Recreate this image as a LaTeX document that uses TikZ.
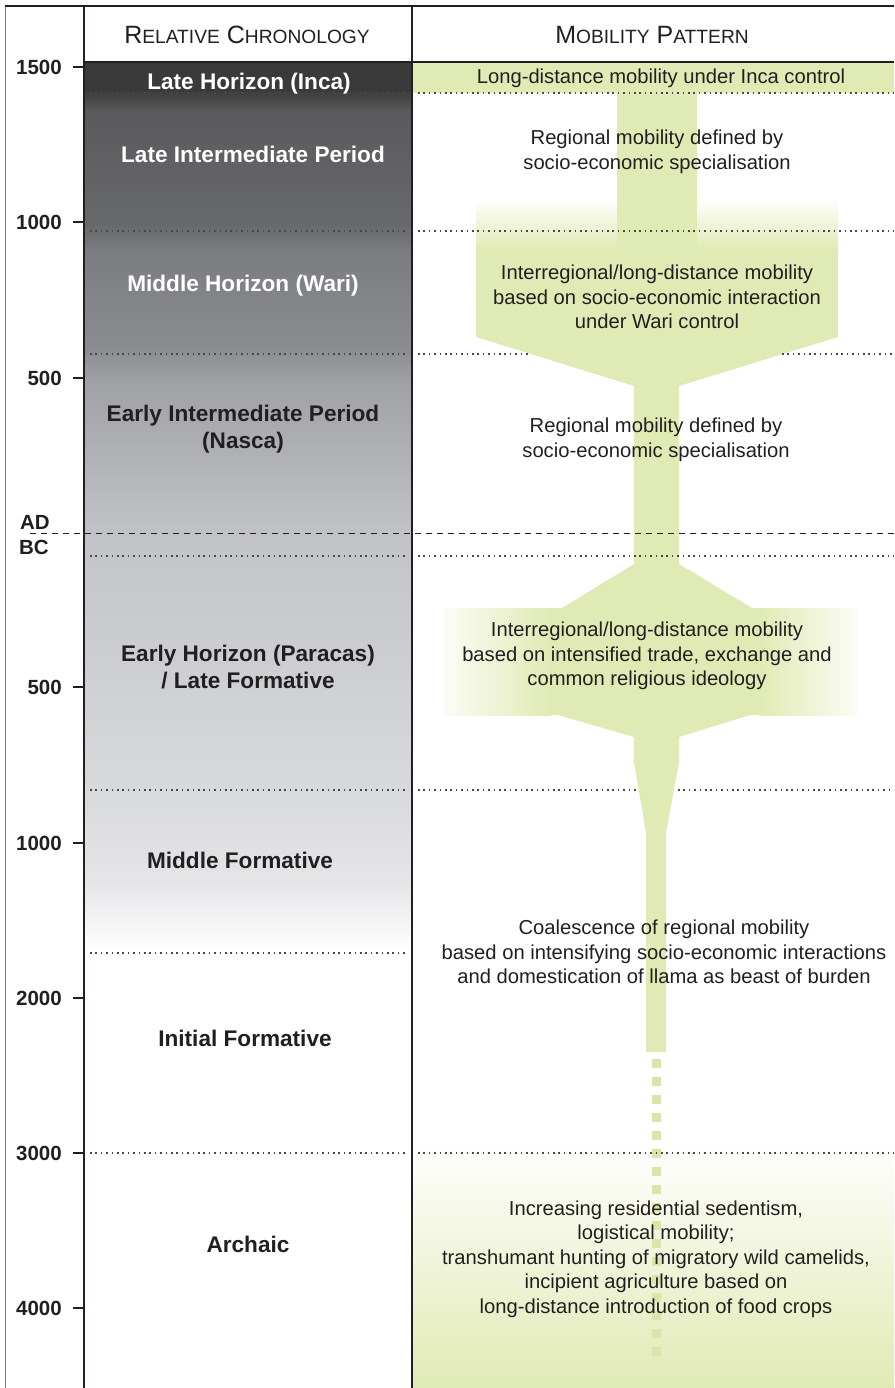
\documentclass[tikz,border=0pt]{standalone}
\usepackage{fontspec}
\setmainfont{Liberation Sans}
\definecolor{grn}{HTML}{E0EAB4}
\definecolor{ink}{HTML}{231F20}
\definecolor{dotc}{HTML}{484848}
\tikzset{
  lab/.style={font=\fontsize{22.6}{27}\selectfont\bfseries, align=center, text=ink, inner sep=0pt},
  wlab/.style={lab, text=white},
  mob/.style={font=\fontsize{20.2}{24.5}\selectfont, align=center, text=ink, inner sep=0pt},
  yr/.style={font=\fontsize{20.5}{21}\selectfont\bfseries, anchor=east, text=ink, inner sep=0pt},
  yrtick/.style={line width=2pt, draw=ink},
  sepline/.style={draw=dotc, line width=1.5pt, dash pattern=on 1.5pt off 3.9pt},
  hdr/.style={text=ink, inner sep=0pt},
  frame/.style={draw=ink, line width=2pt}
}
\newcommand{\bigc}[1]{{\fontsize{25}{25}\selectfont #1}}
\newcommand{\smc}[1]{{\fontsize{19.2}{19.2}\selectfont #1}}
\begin{document}
\begin{tikzpicture}[x=1pt,y=-1pt]
\useasboundingbox (0,0) rectangle (894,1388);
\fill[white] (0,0) rectangle (894,1388);

% ---------- left column grey gradient ----------
\fill[color={rgb,255:red,58;green,58;blue,58}] (84,62) rectangle (412,91);
\fill[top color={rgb,255:red,58;green,58;blue,58}, bottom color={rgb,255:red,90;green,90;blue,92}] (84,90) rectangle (412,111);
\fill[top color={rgb,255:red,90;green,90;blue,92}, bottom color={rgb,255:red,104;green,105;blue,107}] (84,110) rectangle (412,226);
\fill[top color={rgb,255:red,104;green,105;blue,107}, bottom color={rgb,255:red,123;green,124;blue,128}] (84,225) rectangle (412,251);
\fill[top color={rgb,255:red,123;green,124;blue,128}, bottom color={rgb,255:red,140;green,141;blue,145}] (84,250) rectangle (412,351);
\fill[top color={rgb,255:red,140;green,141;blue,145}, bottom color={rgb,255:red,160;green,161;blue,165}] (84,350) rectangle (412,381);
\fill[top color={rgb,255:red,160;green,161;blue,165}, bottom color={rgb,255:red,195;green,196;blue,199}] (84,380) rectangle (412,541);
\fill[top color={rgb,255:red,195;green,196;blue,199}, bottom color={rgb,255:red,216;green,217;blue,219}] (84,540) rectangle (412,791);
\fill[top color={rgb,255:red,216;green,217;blue,219}, bottom color={rgb,255:red,229;green,229;blue,231}] (84,790) rectangle (412,881);
\fill[top color={rgb,255:red,229;green,229;blue,231}, bottom color=white] (84,880) rectangle (412,953);

% ---------- right column green shapes ----------
\fill[grn] (412,62) rectangle (894,93);
\fill[top color=white, bottom color=grn] (476,198) rectangle (838,250);
\fill[grn] (617,93) rectangle (697,250);
\fill[grn] (476,249) -- (838,249) -- (838,337) -- (679,386) -- (679,564)
  -- (752,608) -- (750,715) -- (679,737) -- (679,762) -- (666,833)
  -- (666,1052) -- (646,1052) -- (646,833) -- (634,762) -- (634,737)
  -- (558,715) -- (562,608) -- (634,564) -- (634,386) -- (476,337) -- cycle;
\fill[left color=grn!12, right color=grn] (443,608) rectangle (551,715);
\fill[grn] (550,608) rectangle (760,715);
\fill[left color=grn, right color=grn!12] (759,608) rectangle (857,715);
\fill[top color=white, bottom color=grn] (412,1140) rectangle (894,1388);
\foreach \k in {0,...,16} {
  \fill[grn!95!olive] (652,1059+18*\k) rectangle (661,1068+18*\k);
}

% ---------- separator lines ----------
\foreach \yy in {93,231,354,556,790,953,1153} {
  \draw[sepline] (90,\yy) -- (408,\yy);
}
\foreach \yy in {93,231,556,1153} {
  \draw[sepline] (418,\yy) -- (894,\yy);
}
\draw[sepline] (418,354) -- (528,354);
\draw[sepline] (782,354) -- (894,354);
\draw[sepline] (418,790) -- (638,790);
\draw[sepline] (678,790) -- (894,790);
\draw[draw=ink, line width=1pt, dash pattern=on 5.5pt off 5.5pt] (30,533) -- (894,533);

% ---------- frame ----------
\draw[draw=gray, line width=0.9pt] (5,6) -- (5,1388);
\draw[draw=ink, line width=1.5pt] (5,6) -- (894,6);
\draw[frame] (84,6) -- (84,1388);
\draw[frame] (412,6) -- (412,1388);
\draw[frame] (84,62) -- (894,62);

% ---------- headers ----------
\node[hdr] (h1) at (247,35) {\bigc{R}\smc{ELATIVE}\bigc{\ C}\smc{HRONOLOGY}};
\node[hdr] (h2) at (652,35) {\bigc{M}\smc{OBILITY}\bigc{\ P}\smc{ATTERN}};

% ---------- year axis ----------
\foreach \yy/\lbl/\nm in {67/1500/a,222/1000/b,378/500/c,687/500/d,843/1000/e,998/2000/f,1153/3000/g,1308/4000/h} {
  \draw[yrtick] (73,\yy) -- (84,\yy);
  \node[yr] (yr\nm) at (62,\yy) {\lbl};
}
\node[yr, anchor=center] (ad) at (35,522) {AD};
\node[yr, anchor=center] (bc) at (34,547) {BC};

% ---------- period labels ----------
\node[wlab] (p1) at (249,84) {Late Horizon (Inca)};
\node[wlab] (p2) at (253,154) {Late Intermediate Period};
\node[wlab] (p3) at (243,286) {Middle Horizon (Wari)};
\node[lab] (p4) at (243,429) {Early Intermediate Period\\(Nasca)};
\node[lab] (p5) at (248,667) {Early Horizon (Paracas)\\/ Late Formative};
\node[lab] (p6) at (240,860) {Middle Formative};
\node[lab] (p7) at (245,1038) {Initial Formative};
\node[lab] (p8) at (248,1244) {Archaic};

% ---------- mobility labels ----------
\node[mob] (m1) at (661,78) {Long-distance mobility under Inca control};
\node[mob] (m2) at (657,152) {Regional mobility defined by\\socio-economic specialisation};
\node[mob] (m3) at (657,297) {Interregional/long-distance mobility\\based on socio-economic interaction\\under Wari control};
\node[mob] (m4) at (656,440) {Regional mobility defined by\\socio-economic specialisation};
\node[mob] (m5) at (647,656) {Interregional/long-distance mobility\\based on intensified trade, exchange and\\common religious ideology};
\node[mob] (m6) at (664,952) {Coalescence of regional mobility\\based on intensifying socio-economic interactions\\and domestication of llama as beast of burden};
\node[mob] (m7) at (656,1259) {Increasing residential sedentism,\\logistical mobility;\\transhumant hunting of migratory wild camelids,\\incipient agriculture based on\\long-distance introduction of food crops};
\end{tikzpicture}
\end{document}
